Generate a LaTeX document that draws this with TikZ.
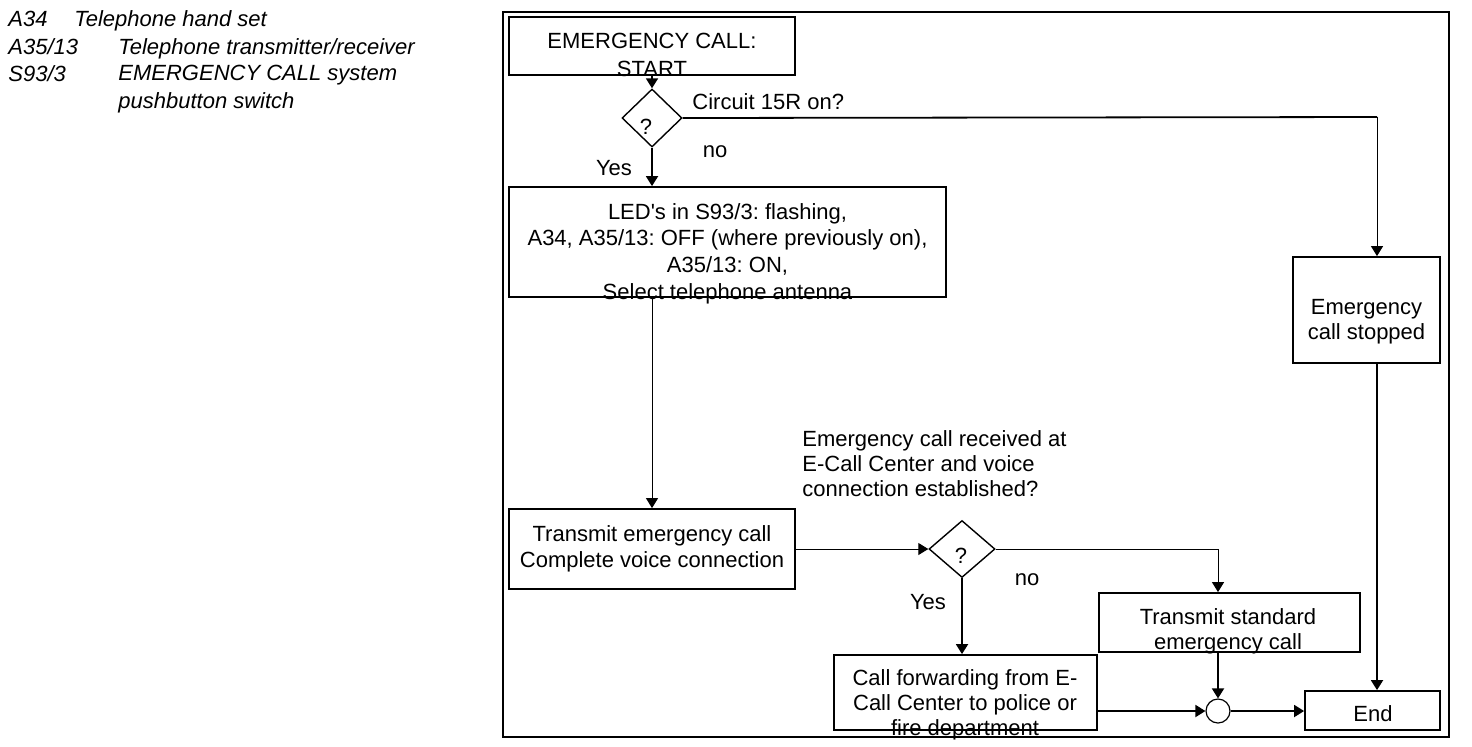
\documentclass[tikz,border=0pt]{standalone}
\usepackage{fontspec}
\setmainfont{Liberation Sans}[Ligatures=TeXOff]
\usetikzlibrary{shapes.geometric,arrows.meta}
\frenchspacing
\begin{document}
\begin{tikzpicture}[x=0.5pt,y=-0.5pt,
  every node/.style={font=\fontsize{11}{12.6}\selectfont\frenchspacing},
  boxnode/.style={draw,line width=0.9pt,inner sep=0pt},
  txt/.style={inner sep=0pt,anchor=north,align=center},
  ltxt/.style={inner sep=0pt,anchor=base west,align=left,font=\fontsize{11}{13.8}\selectfont\itshape},
  decision/.style={draw,diamond,line width=0.7pt,inner sep=0pt},
  thinline/.style={line width=0.5pt},
  thickline/.style={line width=0.9pt},
  arr/.style={-{Triangle[length=5pt,width=6pt]}},
]
\useasboundingbox (0,0) rectangle (1472,746);
% frame
\node[boxnode,minimum width=473pt,minimum height=362.5pt] (frame) at (976,374.5) {};
% legend
\node[ltxt] (l1a) at (8,26) {A34};
\node[ltxt] (l1b) at (74,26) {Telephone hand set};
\node[ltxt] (l2a) at (8,54) {A35/13};
\node[ltxt] (l2b) at (118,54) {Telephone transmitter/receiver};
\node[ltxt] (l3a) at (8,81) {S93/3};
\node[ltxt,anchor=north west] (l3b) at (118,65) {EMERGENCY CALL system\\pushbutton switch};
% boxes
\node[boxnode,minimum width=143pt,minimum height=29pt] (start) at (652,46) {};
\node[txt,font=\fontsize{11}{13.8}\selectfont] (startt) at (652,33) {EMERGENCY CALL:\\START};
\node[decision,minimum width=30pt,minimum height=29pt] (d1) at (652,118) {};
\node[inner sep=0pt] (q1) at (646,127) {?};
\node[txt,anchor=north west] (circ15) at (692,93) {Circuit 15R on?};
\node[inner sep=0pt] (no1) at (715,152) {no};
\node[txt] (yes1) at (614,160) {Yes};
\node[boxnode,minimum width=218.5pt,minimum height=55pt] (led) at (727.5,242) {};
\node[txt,font=\fontsize{11}{13.3}\selectfont\frenchspacing] (ledt) at (727.5,203) {LED's in S93/3: flashing,\\A34, A35/13: OFF (where previously on),\\A35/13: ON,\\Select telephone antenna};
\node[boxnode,minimum width=143pt,minimum height=40pt] (trans) at (652,549) {};
\node[txt,font=\fontsize{11}{13.3}\selectfont] (transt) at (652,525) {Transmit emergency call\\Complete voice connection};
\node[txt,anchor=north west,align=left] (recv) at (802,430) {Emergency call received at\\E-Call Center and voice\\connection established?};
\node[decision,minimum width=33pt,minimum height=28.5pt] (d2) at (962,549) {};
\node[inner sep=0pt] (q2) at (961,556) {?};
\node[inner sep=0pt] (no2) at (1027,580) {no};
\node[txt] (yes2) at (928,594) {Yes};
\node[boxnode,minimum width=73.5pt,minimum height=53pt] (stop) at (1366.5,310) {};
\node[txt] (stopt) at (1366.5,299) {Emergency\\call stopped};
\node[boxnode,minimum width=130.5pt,minimum height=29.5pt] (std) at (1229.5,622.5) {};
\node[txt] (stdt) at (1228,608) {Transmit standard\\emergency call};
\node[boxnode,minimum width=131.5pt,minimum height=37.5pt] (fwd) at (965.5,692.5) {};
\node[txt] (fwdt) at (965,669) {Call forwarding from E-\\Call Center to police or\\fire department};
\node[draw,circle,line width=0.6pt,minimum size=12pt,inner sep=0pt] (circ) at (1218,711) {};
\node[boxnode,minimum width=67.5pt,minimum height=19.5pt] (end) at (1372.5,710.5) {};
\node[txt] (endt) at (1373,705) {End};
\coordinate (c1) at (1377,117);
\coordinate (c2) at (1218,549);
% connectors
\draw[thickline,arr] (start.south) -- (d1.north);
\draw[thickline,arr] (d1.south) -- (d1.south |- led.north);
\draw[thickline] (d1.east) -- (c1);
\draw[thinline,arr] (c1) -- (c1 |- stop.north);
\draw[thinline,arr] (led.south -| trans.north) -- (trans.north);
\draw[thinline,arr] (trans.east) -- (d2.west);
\draw[thinline,arr] (d2.east) -- (c2) -- (c2 |- std.north);
\draw[thickline,arr] (d2.south) -- (d2.south |- fwd.north);
\draw[thickline,arr] (circ.north |- std.south) -- (circ.north);
\draw[thickline,arr] (circ.west -| fwd.east) -- (circ.west);
\draw[thickline,arr] (circ.east) -- (circ.east -| end.west);
\draw[thickline,arr] (c1 |- stop.south) -- (c1 |- end.north);
\end{tikzpicture}
\end{document}
